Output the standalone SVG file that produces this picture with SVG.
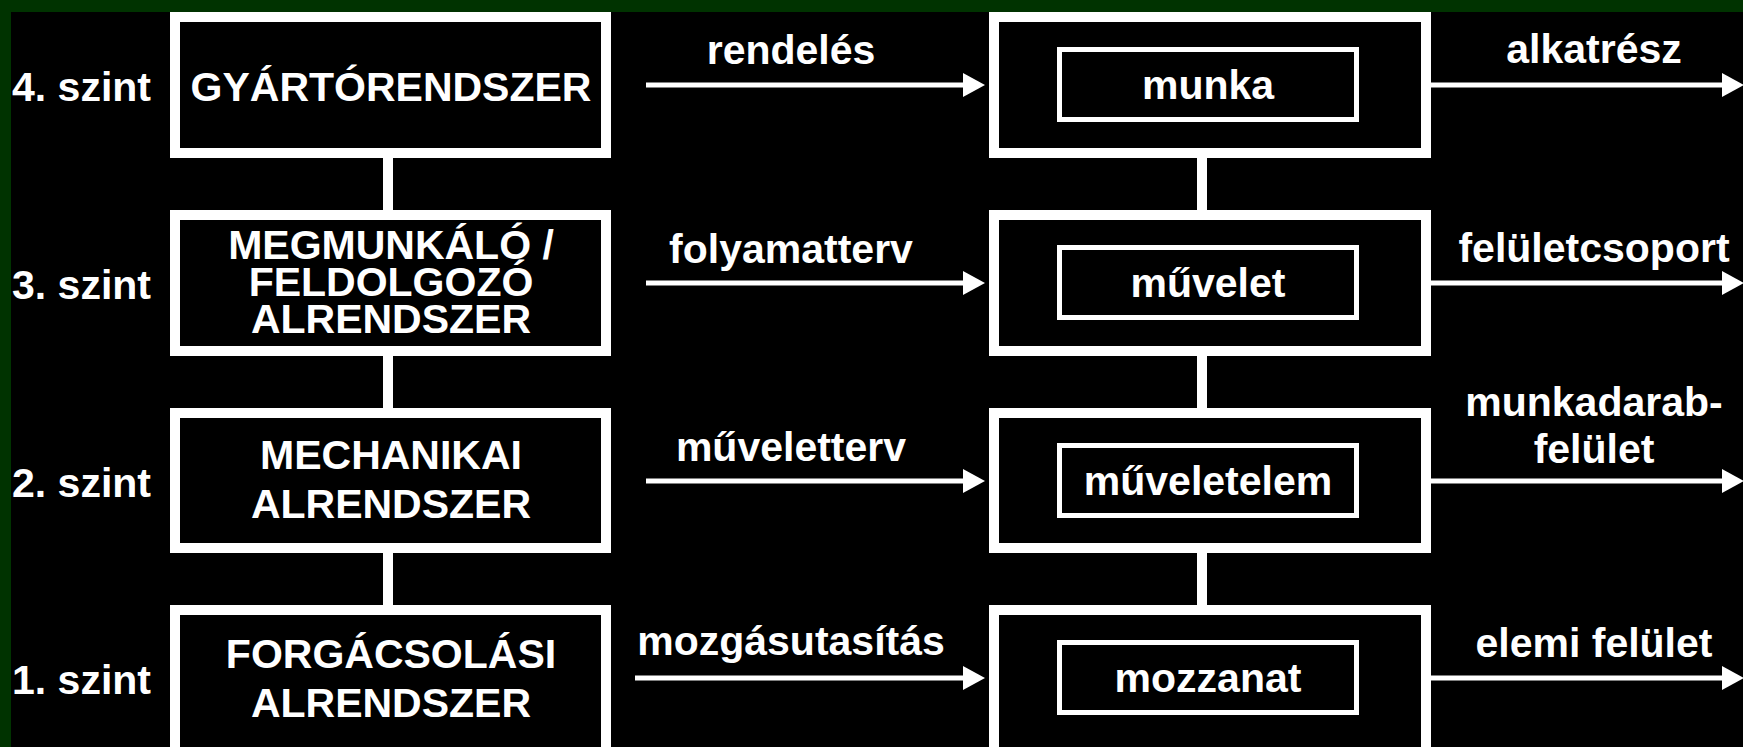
<svg xmlns="http://www.w3.org/2000/svg" width="1743" height="747" viewBox="0 0 1743 747">
<style>
.box{fill:#000;stroke:#fff;stroke-width:10}
.inner{fill:#000;stroke:#fff;stroke-width:5}
.t{font-family:"Liberation Sans",Arial,sans-serif;font-size:41px;fill:#fff;font-weight:bold}
.c{text-anchor:middle}
.link{stroke:#fff;stroke-width:10;fill:none}
.arr{stroke:#fff;stroke-width:5;fill:none;marker-end:url(#ah)}
</style>
<defs>
<marker id="ah" markerUnits="userSpaceOnUse" markerWidth="22" markerHeight="24" viewBox="0 0 22 24" refX="0" refY="12" orient="auto">
<path d="M0,0 L22,12 L0,24 Z" fill="#fff"/>
</marker>
</defs>
<rect x="0" y="0" width="1743" height="747" fill="#003300"/>
<rect x="11" y="12" width="1732" height="735" fill="#000"/>

<g id="connectors">
<line class="link" x1="388" y1="158" x2="388" y2="210"/>
<line class="link" x1="388" y1="356" x2="388" y2="408"/>
<line class="link" x1="388" y1="553" x2="388" y2="605"/>
<line class="link" x1="1202" y1="158" x2="1202" y2="210"/>
<line class="link" x1="1202" y1="356" x2="1202" y2="408"/>
<line class="link" x1="1202" y1="553" x2="1202" y2="605"/>
<line class="arr" x1="646" y1="85" x2="963" y2="85"/>
<line class="arr" x1="646" y1="283" x2="963" y2="283"/>
<line class="arr" x1="646" y1="481" x2="963" y2="481"/>
<line class="arr" x1="635" y1="678" x2="963" y2="678"/>
<line class="arr" x1="1431" y1="85" x2="1722" y2="85"/>
<line class="arr" x1="1431" y1="283" x2="1722" y2="283"/>
<line class="arr" x1="1431" y1="481" x2="1722" y2="481"/>
<line class="arr" x1="1431" y1="678" x2="1722" y2="678"/>
<text class="t c" x="791" y="64">rendelés</text>
<text class="t c" x="791" y="263">folyamatterv</text>
<text class="t c" x="791" y="461">műveletterv</text>
<text class="t c" x="791" y="655">mozgásutasítás</text>
<text class="t c" x="1594" y="63">alkatrész</text>
<text class="t c" x="1594" y="262">felületcsoport</text>
<text class="t c" x="1594" y="416">munkadarab-</text>
<text class="t c" x="1594" y="463">felület</text>
<text class="t c" x="1594" y="657">elemi felület</text>
</g>

<g id="levels">
<text class="t" x="12" y="101">4. szint</text>
<text class="t" x="12" y="299">3. szint</text>
<text class="t" x="12" y="497">2. szint</text>
<text class="t" x="12" y="694">1. szint</text>
</g>

<g id="gyartorendszer">
<rect class="box" x="175" y="17" width="431" height="136"/>
<text class="t c" x="391" y="101">GYÁRTÓRENDSZER</text>
</g>
<g id="megmunkalo">
<rect class="box" x="175" y="215" width="431" height="136"/>
<text class="t c" x="391" y="259">MEGMUNKÁLÓ /</text>
<text class="t c" x="391" y="296">FELDOLGOZÓ</text>
<text class="t c" x="391" y="333">ALRENDSZER</text>
</g>
<g id="mechanikai">
<rect class="box" x="175" y="413" width="431" height="135"/>
<text class="t c" x="391" y="469">MECHANIKAI</text>
<text class="t c" x="391" y="518">ALRENDSZER</text>
</g>
<g id="forgacsolasi">
<rect class="box" x="175" y="610" width="431" height="150"/>
<text class="t c" x="391" y="668">FORGÁCSOLÁSI</text>
<text class="t c" x="391" y="717">ALRENDSZER</text>
</g>

<g id="munka">
<rect class="box" x="994" y="17" width="432" height="136"/>
<rect class="inner" x="1059.5" y="49.5" width="297" height="70"/>
<text class="t c" x="1208" y="99">munka</text>
</g>
<g id="muvelet">
<rect class="box" x="994" y="215" width="432" height="136"/>
<rect class="inner" x="1059.5" y="247.5" width="297" height="70"/>
<text class="t c" x="1208" y="297">művelet</text>
</g>
<g id="muveletelem">
<rect class="box" x="994" y="413" width="432" height="135"/>
<rect class="inner" x="1059.5" y="445.5" width="297" height="70"/>
<text class="t c" x="1208" y="495">műveletelem</text>
</g>
<g id="mozzanat">
<rect class="box" x="994" y="610" width="432" height="150"/>
<rect class="inner" x="1059.5" y="642.5" width="297" height="70"/>
<text class="t c" x="1208" y="692">mozzanat</text>
</g>
</svg>
